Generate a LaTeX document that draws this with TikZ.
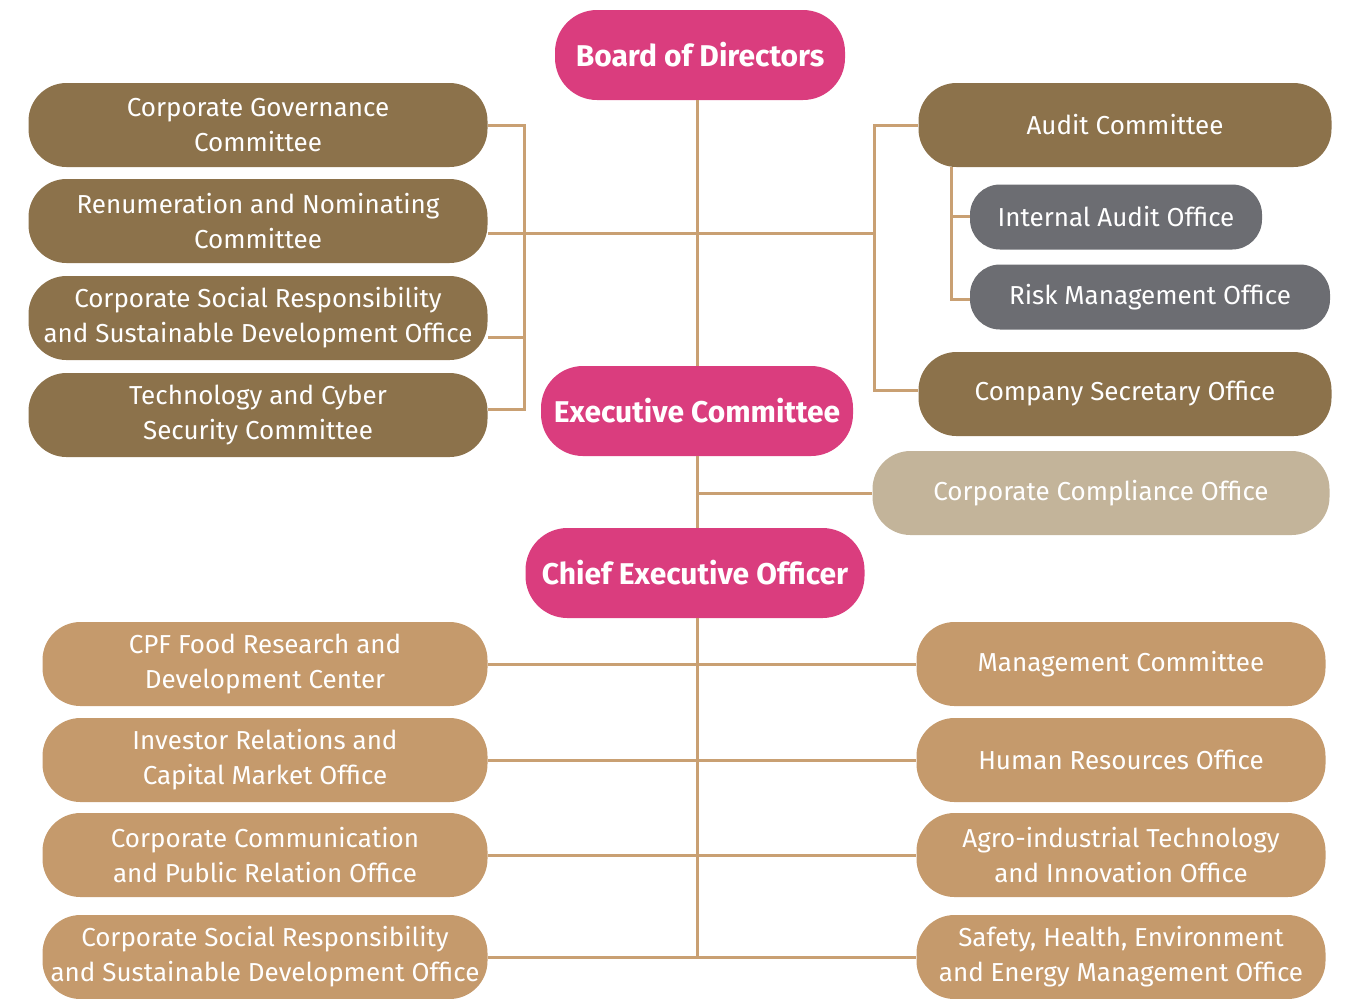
\documentclass[tikz,border=0pt]{standalone}
\usepackage{fontspec}
\setmainfont{Fira Sans}
\definecolor{boardpink}{HTML}{DA3D7E}
\definecolor{deepbrown}{HTML}{8C724B}
\definecolor{sandtan}{HTML}{C59A6C}
\definecolor{slategray}{HTML}{6C6D72}
\definecolor{paletan}{HTML}{C3B49A}
\definecolor{linetan}{HTML}{C9A073}
\begin{document}
\begin{tikzpicture}[x=0.5pt,y=-0.5pt,
  box/.style={rounded corners=19pt,text=white,align=center,inner sep=0pt,
    font=\fontsize{13}{17.5}\selectfont},
  head/.style={box,fill=boardpink,minimum height=45pt,rounded corners=21pt,
    font=\bfseries\fontsize{15}{18}\selectfont},
  board/.style={box,fill=deepbrown,minimum width=229.5pt,minimum height=42pt},
  audits/.style={box,fill=deepbrown,minimum width=206.5pt,minimum height=42pt},
  office/.style={box,fill=slategray,minimum height=32.5pt,rounded corners=15pt},
  leftunit/.style={box,fill=sandtan,minimum width=222.5pt,minimum height=42pt},
  rightunit/.style={box,fill=sandtan,minimum width=204.5pt,minimum height=42pt},
  conn/.style={draw=linetan,line width=1.5pt}]
\useasboundingbox (0,0) rectangle (1348,998);

\node[head,minimum width=145pt] (bod) at (700,55) {Board of Directors};
\node[head,minimum width=156pt] (exec) at (697,411) {Executive Committee};
\node[head,minimum width=169.5pt] (ceo) at (695,573) {Chief Executive Officer};

\node[board] (cgc) at (258,125) {Corporate Governance\\Committee};
\node[board] (rnc) at (258,221) {Renumeration and Nominating\\Committee};
\node[board] (csr) at (258,318) {Corporate Social Responsibility\\and Sustainable Development Office};
\node[board] (tcs) at (258,415) {Technology and Cyber\\Security Committee};

\node[audits] (audit) at (1125,125) {Audit Committee};
\node[office,minimum width=146pt] (iao) at (1116,217) {Internal Audit Office};
\node[office,minimum width=180pt] (rmo) at (1150,297) {Risk Management Office};
\node[audits] (cso) at (1125,394) {Company Secretary Office};
\node[box,fill=paletan,minimum width=228.5pt,minimum height=42pt] (compl) at (1101,493) {Corporate Compliance Office};

\node[leftunit] (l1) at (265,664) {CPF Food Research and\\Development Center};
\node[leftunit] (l2) at (265,760) {Investor Relations and\\Capital Market Office};
\node[leftunit] (l3) at (265,855) {Corporate Communication\\and Public Relation Office};
\node[leftunit] (l4) at (265,957) {Corporate Social Responsibility\\and Sustainable Development Office};

\node[rightunit] (r1) at (1121,664) {Management Committee};
\node[rightunit] (r2) at (1121,760) {Human Resources Office};
\node[rightunit] (r3) at (1121,855) {Agro-industrial Technology\\and Innovation Office};
\node[rightunit] (r4) at (1121,957) {Safety, Health, Environment\\and Energy Management Office};

\coordinate (lbar) at (524,233);
\coordinate (rbar) at (874,233);
\coordinate (abar) at (951,216);

\draw[conn] (bod.south -| exec.north) -- (exec.north);
\draw[conn] (cgc.east) -| (lbar) |- ([yshift=3pt]tcs.east);
\draw[conn] ([yshift=-9.5pt]csr.east) -- ([yshift=-9.5pt]csr.east -| lbar);
\draw[conn] ([yshift=-6pt]rnc.east) -- (rbar);
\draw[conn] (audit.west) -| (rbar) |- ([yshift=2pt]cso.west);
\draw[conn] (audit.south -| abar) |- ([yshift=-1pt]rmo.west);
\draw[conn] (abar) -- (iao.west |- abar);
\draw[conn] (exec.south) -- (exec.south |- ceo.north);
\draw[conn] (compl.west) -- (compl.west -| exec.south);
\draw[conn] (ceo.south -| exec.south) -- (exec.south |- l4.east);
\draw[conn] (l1.east) -- (r1.west);
\draw[conn] (l2.east) -- (r2.west);
\draw[conn] (l3.east) -- (r3.west);
\draw[conn] (l4.east) -- (r4.west);
\end{tikzpicture}
\end{document}
